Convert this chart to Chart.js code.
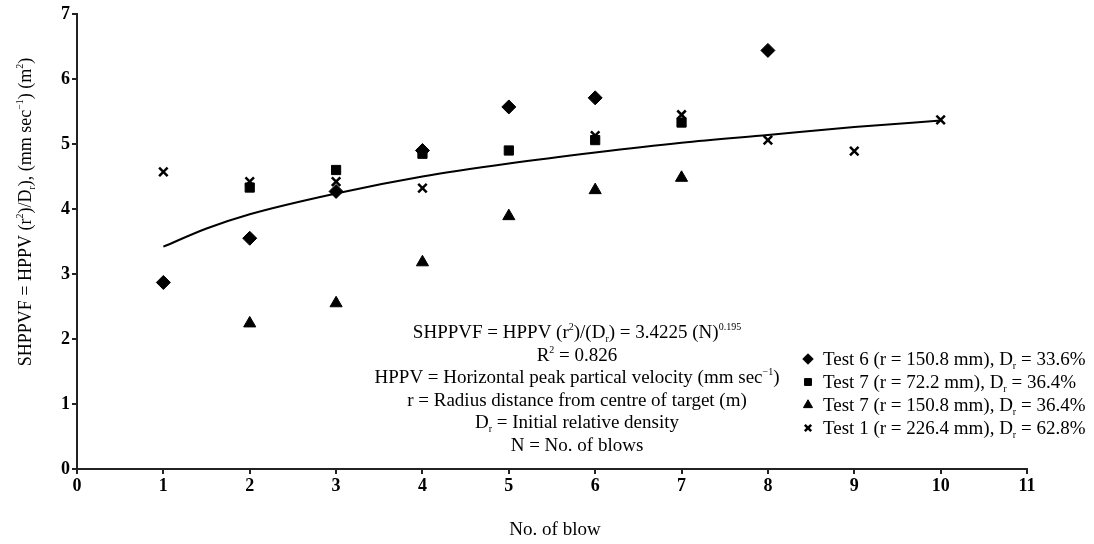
<!DOCTYPE html>
<html>
<head>
<meta charset="utf-8">
<script src="https://cdn.jsdelivr.net/npm/chart.js@4"></script>
<style>
  html, body { margin: 0; padding: 0; background: #fff; }
  #wrap { width: 1094px; height: 544px; position: relative; }
</style>
</head>
<body>
<div id="wrap"><canvas id="chart"></canvas></div>
<script>
// ── Data ────────────────────────────────────────────────────────────────────
const test6X = [1, 2, 3, 4, 5, 6, 8];
const test6Y = [2.87, 3.55, 4.27, 4.90, 5.57, 5.71, 6.44];

const test7sqX = [2, 3, 4, 5, 6, 7];
const test7sqY = [4.33, 4.60, 4.85, 4.90, 5.06, 5.33];

const test7triX = [2, 3, 4, 5, 6, 7];
const test7triY = [2.24, 2.55, 3.18, 3.89, 4.29, 4.48];

const test1X = [1, 2, 3, 4, 6, 7, 8, 9, 10];
const test1Y = [4.57, 4.42, 4.42, 4.32, 5.13, 5.45, 5.06, 4.89, 5.37];

// power-law trend line
const fitX = [1, 1.5, 2, 3, 4, 5, 6, 7, 8, 9, 10];
const fitY = [3.42, 3.70, 3.92, 4.24, 4.50, 4.70, 4.87, 5.02, 5.14, 5.26, 5.36];

const legendLabels = [
  [['Test 6 (r = 150.8 mm), D'], ['r', 'sub'], [' = 33.6%']],
  [['Test 7 (r = 72.2 mm), D'], ['r', 'sub'], [' = 36.4%']],
  [['Test 7 (r = 150.8 mm), D'], ['r', 'sub'], [' = 36.4%']],
  [['Test 1 (r = 226.4 mm), D'], ['r', 'sub'], [' = 62.8%']],
];

const noteLines = [
  [['SHPPVF = HPPV (r'], ['2', 'sup'], [')/(D'], ['r', 'sub'], [') = 3.4225 (N)'], ['0.195', 'sup']],
  [['R'], ['2', 'sup'], [' = 0.826']],
  [['HPPV = Horizontal peak partical velocity (mm sec'], ['\u22121', 'sup'], [')']],
  [['r = Radius distance from centre of target (m)']],
  [['D'], ['r', 'sub'], [' = Initial relative density']],
  [['N = No. of blows']],
];

const yTitle = [['SHPPVF = HPPV (r'], ['2', 'sup'], [')/D'], ['r', 'sub'], ['), (mm sec'], ['\u22121', 'sup'], [') (m'], ['2', 'sup'], [')']];
const xTitle = 'No. of blow';

// ── Shared style ────────────────────────────────────────────────────────────
const SERIF = "'Liberation Serif', 'Times New Roman', serif";
const INK = '#000';
const FS = 19;

function _toXY(xArr, yArr) {
  return xArr.map((x, i) => ({ x, y: yArr[i] }));
}

function _segFont(mode, size) {
  return (mode ? Math.round(size * 0.55) : size) + 'px ' + SERIF;
}

function _richWidth(ctx, segs, size) {
  let w = 0;
  segs.forEach(([t, m]) => { ctx.font = _segFont(m, size); w += ctx.measureText(t).width; });
  return w;
}

// draws text with simple sub/superscripts, baseline at y
function _drawRich(ctx, segs, x, y, align, size) {
  const w = _richWidth(ctx, segs, size);
  let cx = align === 'center' ? x - w / 2 : x;
  ctx.textAlign = 'left';
  ctx.textBaseline = 'alphabetic';
  segs.forEach(([t, m]) => {
    ctx.font = _segFont(m, size);
    const dy = m === 'sup' ? -size * 0.42 : m === 'sub' ? size * 0.2 : 0;
    ctx.fillText(t, cx, y + dy);
    cx += ctx.measureText(t).width;
  });
}

// ── Overlay texts and legend ────────────────────────────────────────────────
const overlay = {
  id: 'overlay',
  afterDraw(chart) {
    const { ctx } = chart;
    ctx.save();
    ctx.fillStyle = INK;

    // equation block
    noteLines.forEach((line, i) => {
      _drawRich(ctx, line, 577, 338 + i * 22.5, 'center', FS);
    });

    // legend
    const styles = chart.data.datasets.slice(0, 4);
    legendLabels.forEach((line, i) => {
      const y = 365 + i * 23;
      const ds = styles[i];
      ctx.fillStyle = INK;
      ctx.strokeStyle = INK;
      ctx.lineWidth = ds.borderWidth || 1;
      Chart.helpers.drawPoint(ctx, {
        pointStyle: ds.pointStyle, radius: ds.pointRadius * 0.75, rotation: 0, borderWidth: ds.borderWidth,
      }, 808, y - 6);
      _drawRich(ctx, line, 823, y, 'left', FS);
    });

    // axis titles
    ctx.fillStyle = INK;
    ctx.font = FS + 'px ' + SERIF;
    ctx.textAlign = 'center';
    ctx.textBaseline = 'middle';
    ctx.fillText(xTitle, 555, 530);

    ctx.translate(31, 212);
    ctx.rotate(-Math.PI / 2);
    _drawRich(ctx, yTitle, 0, 0, 'center', 18);
    ctx.restore();
  },
};

// ── Chart ───────────────────────────────────────────────────────────────────
const marker = {
  backgroundColor: INK,
  borderColor: INK,
  showLine: false,
  hoverRadius: 6,
};

const datasets = [
  { ...marker, label: 'Test 6', data: _toXY(test6X, test6Y), pointStyle: 'rectRot', pointRadius: 7, borderWidth: 1 },
  { ...marker, label: 'Test 7 sq', data: _toXY(test7sqX, test7sqY), pointStyle: 'rect', pointRadius: 6.5, borderWidth: 1 },
  { ...marker, label: 'Test 7 tri', data: _toXY(test7triX, test7triY), pointStyle: 'triangle', pointRadius: 7, borderWidth: 1 },
  { ...marker, label: 'Test 1', data: _toXY(test1X, test1Y), pointStyle: 'crossRot', pointRadius: 6, borderWidth: 2.5 },
  {
    label: 'Fit',
    type: 'line',
    data: _toXY(fitX, fitY),
    borderColor: INK,
    borderWidth: 2,
    pointRadius: 0,
    cubicInterpolationMode: 'monotone',
    fill: false,
  },
];

const axisCommon = {
  type: 'linear',
  grid: { drawOnChartArea: false, drawTicks: true, tickLength: 5, color: '#222', lineWidth: 2 },
  border: { color: '#222', width: 2 },
  ticks: {
    stepSize: 1,
    color: INK,
    font: { family: SERIF, size: 18, weight: 'bold' },
  },
};

new Chart(document.getElementById('chart').getContext('2d'), {
  type: 'scatter',
  data: { datasets },
  options: {
    responsive: true,
    maintainAspectRatio: false,
    animation: false,
    layout: { padding: { top: 14, right: 67, left: 0, bottom: 0 } },
    plugins: { legend: { display: false }, tooltip: { enabled: false } },
    scales: {
      x: {
        ...axisCommon,
        min: 0,
        max: 11,
        ticks: { ...axisCommon.ticks, padding: 2, maxRotation: 0 },
        afterFit: (s) => { s.height = 75; },
      },
      y: {
        ...axisCommon,
        min: 0,
        max: 7,
        ticks: { ...axisCommon.ticks, padding: 2 },
        afterFit: (s) => { s.width = 77; },
      },
    },
  },
  plugins: [overlay],
});
</script>
</body>
</html>
